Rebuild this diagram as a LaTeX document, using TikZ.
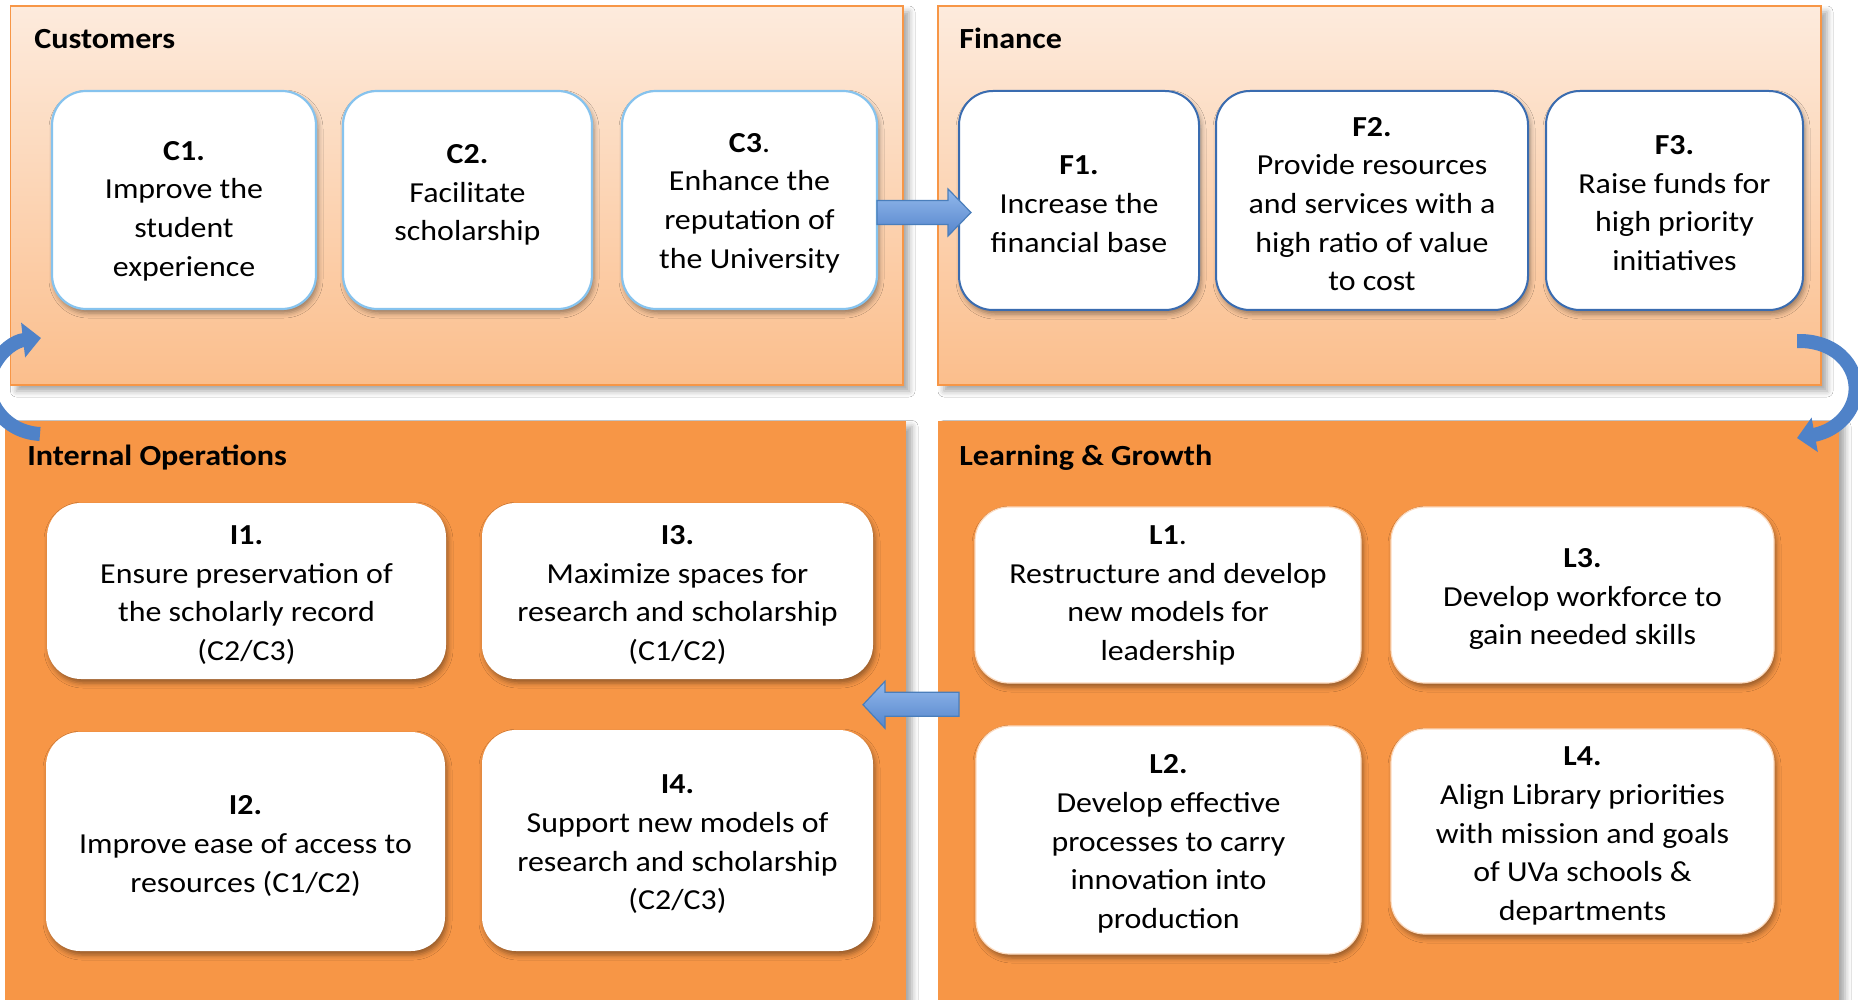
\documentclass[tikz,border=0pt]{standalone}
\usepackage{fontspec}
\setmainfont{Carlito}[FakeStretch=1.1]
\usetikzlibrary{shadows.blur,arrows.meta,calc}
\definecolor{orangeP}{HTML}{F79646}
\definecolor{topT}{HTML}{FDEBDD}
\definecolor{topB}{HTML}{FBBE8C}
\definecolor{lblue}{HTML}{86C3EE}
\definecolor{dblue}{HTML}{3A6CB0}
\definecolor{arrLight}{HTML}{93B9EC}
\definecolor{arrDark}{HTML}{5585CC}
\definecolor{arrLine}{HTML}{4A7EBB}
\definecolor{curveC}{HTML}{4F82C8}
\tikzset{
  panelshadow/.style={blur shadow={shadow xshift=3pt, shadow yshift=-3pt, shadow blur radius=3pt, shadow opacity=35}},
  toppanel/.style={draw=orangeP, line width=0.8pt, top color=topT, bottom color=topB, panelshadow, inner sep=0pt, outer sep=0pt},
  botpanel/.style={fill=orangeP, draw=none, panelshadow, inner sep=0pt, outer sep=0pt},
  boxshadow/.style={blur shadow={shadow xshift=1pt, shadow yshift=-2pt, shadow blur radius=2.5pt, shadow opacity=40}},
  basebox/.style={rectangle, rounded corners=17pt, fill=white, inner sep=0pt, outer sep=0pt, boxshadow},
  cbox/.style={basebox, draw=lblue, line width=1.1pt},
  fbox/.style={basebox, draw=dblue, line width=1pt},
  ibox/.style={basebox, draw=none},
  lbox/.style={basebox, draw=orangeP!35, line width=0.6pt},
  txt/.style={align=center, inner sep=0pt, yshift=-1.5pt, font=\fontsize{14.5}{19.35}\selectfont},
  head/.style={anchor=base west, inner sep=0pt, yshift=-0.5pt, font=\fontsize{14.6}{17}\selectfont\bfseries},
  blockarrow/.style={draw=arrLine, line width=0.6pt, top color=arrLight, bottom color=arrDark, line join=miter},
  curvearrow/.style={draw=curveC, line width=7pt, -{Triangle[length=9pt,width=17pt]}}
}
\begin{document}
\begin{tikzpicture}[x=0.5pt,y=-0.5pt]
\useasboundingbox (0,0) rectangle (1858,1000);
\clip (0,0) rectangle (1858,1000);
\fill[white] (0,0) rectangle (1858,1000);

% panels
\node[toppanel, minimum width=446.25pt, minimum height=189.5pt] (cust) at (456.75,195.5) {};
\node[toppanel, minimum width=441.5pt, minimum height=189.5pt] (fin) at (1379.5,195.5) {};
\node[botpanel, minimum width=450.5pt, minimum height=294.75pt] (intl) at (455.5,715.25) {};
\node[botpanel, minimum width=450.5pt, minimum height=294.75pt] (learn) at (1388.5,715.25) {};

% headers
\node[head] (custh) at (34,48) {Customers};
\node[head] (finh) at (959,48) {Finance};
\node[head] (intlh) at (27,464) {Internal Operations};
\node[head] (learnh) at (959,464) {Learning \& Growth};

% customer boxes
\node[cbox, minimum width=132pt, minimum height=109pt] (c1box) at (184,200) {};
\node[cbox, minimum width=124.5pt, minimum height=109pt] (c2box) at (467.5,200) {};
\node[cbox, minimum width=127.5pt, minimum height=109pt] (c3box) at (749.5,200) {};
\node[txt] (c1) at (184,208) {\textbf{C1.}\\Improve the\\student\\experience};
\node[txt] (c2) at (467.5,192) {\textbf{C2.}\\Facilitate\\scholarship};
\node[txt] (c3) at (749.5,200) {\textbf{C3}.\\Enhance the\\reputation of\\the University};

% finance boxes
\node[fbox, minimum width=120pt, minimum height=109.5pt] (f1box) at (1079,200.5) {};
\node[fbox, minimum width=156pt, minimum height=109.5pt] (f2box) at (1372,200.5) {};
\node[fbox, minimum width=128.5pt, minimum height=109.5pt] (f3box) at (1674.5,200.5) {};
\node[txt] (f1) at (1079,201) {\textbf{F1.}\\Increase the\\financial base};
\node[txt] (f2) at (1372,201) {\textbf{F2.}\\Provide resources\\and services with a\\high ratio of value\\to cost};
\node[txt] (f3) at (1674.5,200) {\textbf{F3.}\\Raise funds for\\high priority\\initiatives};

% internal boxes
\node[ibox, minimum width=199.5pt, minimum height=88pt] (i1box) at (246.5,591) {};
\node[ibox, minimum width=195.5pt, minimum height=88pt] (i3box) at (677.5,591) {};
\node[ibox, minimum width=199.5pt, minimum height=109.5pt] (i2box) at (245.5,841.5) {};
\node[ibox, minimum width=195.5pt, minimum height=110.5pt] (i4box) at (677.5,840.5) {};
\node[txt] (i1) at (246.5,592) {\textbf{I1.}\\Ensure preservation of\\the scholarly record\\(C2/C3)};
\node[txt] (i3) at (677.5,592) {\textbf{I3.}\\Maximize spaces for\\research and scholarship\\(C1/C2)};
\node[txt] (i2) at (245.5,843) {\textbf{I2.}\\Improve ease of access to\\resources (C1/C2)};
\node[txt] (i4) at (677.5,841.5) {\textbf{I4.}\\Support new models of\\research and scholarship\\(C2/C3)};

% learning boxes
\node[lbox, minimum width=193pt, minimum height=88pt] (l1box) at (1168,595) {};
\node[lbox, minimum width=191.5pt, minimum height=88pt] (l3box) at (1582.5,595) {};
\node[lbox, minimum width=192.5pt, minimum height=114pt] (l2box) at (1168.5,840) {};
\node[lbox, minimum width=191.5pt, minimum height=102.5pt] (l4box) at (1582.5,831.5) {};
\node[txt] (l1) at (1168,592.5) {\textbf{L1}.\\Restructure and develop\\new models for\\leadership};
\node[txt] (l3) at (1582.5,596) {\textbf{L3.}\\Develop workforce to\\gain needed skills};
\node[txt] (l2) at (1168.5,841) {\textbf{L2.}\\Develop effective\\processes to carry\\innovation into\\production};
\node[txt] (l4) at (1582.5,833) {\textbf{L4.}\\Align Library priorities\\with mission and goals\\of UVa schools \&\\departments};

% block arrows
\path[blockarrow] ($(c3box.east)+(0,0.5)$) -- ++(71,0) -- ++(0,-11.5) -- ++(23,23.5) -- ++(-23,23.5) -- ++(0,-11.5) -- ++(-71,0) -- cycle;
\path[blockarrow] ($(learn.west)+(21,-23)$) -- ++(-74,0) -- ++(0,-11) -- ++(-22,23.5) -- ++(22,23.5) -- ++(0,-12) -- ++(74,0) -- cycle;

% curved arrows
\coordinate (rtail) at ($(fin.south east)+(-24,-44)$);
\coordinate (rtip) at ($(learn.north east)+(-42,17.5)$);
\draw[curvearrow] (rtail) .. controls (1840,340) and (1862,372) .. (1854,400) .. controls (1848,420) and (1830,432) .. (rtip);
\coordinate (ltail) at ($(intl.north west)+(35,13.5)$);
\coordinate (ltip) at ($(cust.south west)+(30.5,-47)$);
\draw[curvearrow] (ltail) .. controls (0,432) and (-22,392) .. (-6,365) .. controls (2,350) and (15,341) .. (ltip);
\end{tikzpicture}
\end{document}
